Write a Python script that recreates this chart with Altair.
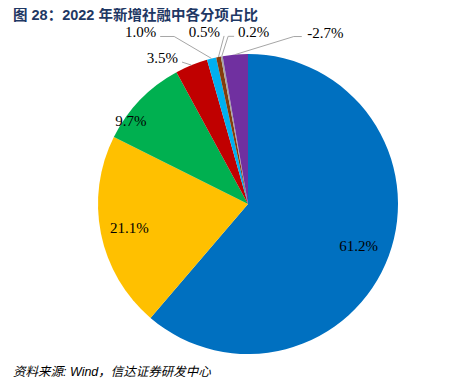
import altair as alt
import pandas as pd

# ---- data ----
categories = ["人民币贷款", "政府债券", "企业债券", "未贴现银行承兑汇票",
              "外币贷款", "委托贷款", "存款类金融机构资产支持证券", "信托贷款"]
shares = [61.2, 21.1, 9.7, 3.5, 1.0, 0.5, 0.2, -2.7]
colors = ["#0070C0", "#FFC000", "#00B050", "#C00000",
          "#00B0F0", "#843C0C", "#A5A5A5", "#7030A0"]
title_text = "图 28：2022 年新增社融中各分项占比"
source_text = "资料来源: Wind，信达证券研发中心"

# ---- label layout (style: radius factor, pixel nudges, leader bends) ----
label_rf = [0.8, 0.8, 0.8, 1, 1, 1, 1, 1]
label_dx = [-2, -1, -31, -29, -71, -14, 32, 90]
label_dy = [0, 0, 0, -7, -26, -25, -24, -22]
has_leader = [False, False, False, True, True, True, True, True]
bend = [0, 0, 0, 0, 14, 0, 6, 8]

W, H = 446, 373
CX, CY, R = 240, 196, 150

df = pd.DataFrame({
    "idx": list(range(len(categories))),
    "cat": categories,
    "value": shares,
    "label": [f"{v:.1f}%" for v in shares],
    "rf": label_rf,
    "dx": label_dx,
    "dy": label_dy,
    "leader": has_leader,
    "bend": bend,
})

xs = alt.Scale(domain=[0, W], range=[0, W], nice=False, zero=False)
ys = alt.Scale(domain=[0, H], range=[0, H], nice=False, zero=False)

arcs = alt.Chart(df).transform_calculate(
    size="abs(datum.value)"
).mark_arc(radius=R).encode(
    theta=alt.Theta("size:Q", stack=True),
    order=alt.Order("idx:Q"),
    color=alt.Color("cat:N", scale=alt.Scale(domain=categories, range=colors), legend=None),
    x=alt.value(CX),
    y=alt.value(CY),
)

geo = alt.Chart(df).transform_calculate(
    size="abs(datum.value)"
).transform_window(
    cum="sum(size)", sort=[alt.SortField("idx")], frame=[None, 0]
).transform_joinaggregate(
    total="sum(size)"
).transform_calculate(
    mid="2*PI*(datum.cum - datum.size/2)/datum.total"
).transform_calculate(
    ex=f"{CX} + {R}*sin(datum.mid)"
).transform_calculate(
    ey=f"{CY} - {R}*cos(datum.mid)"
).transform_calculate(
    lx=f"{CX} + datum.rf*{R}*sin(datum.mid) + datum.dx"
).transform_calculate(
    ly=f"{CY} - datum.rf*{R}*cos(datum.mid) + datum.dy"
).transform_calculate(
    side="datum.lx < datum.ex ? 1 : -1"
).transform_calculate(
    ax="datum.lx + datum.side*(length(datum.label)*3.9 + 4)"
).transform_calculate(
    ay="datum.ly + 4"
).transform_calculate(
    bx="datum.ax + datum.side*datum.bend"
).transform_calculate(
    by="datum.ay"
)

labels = geo.mark_text(
    font="Liberation Serif", fontSize=15, color="#000000",
    align="center", baseline="middle"
).encode(
    x=alt.X("lx:Q", scale=xs, axis=None),
    y=alt.Y("ly:Q", scale=ys, axis=None),
    text="label:N",
)

leaders = geo.transform_filter(
    "datum.leader"
).transform_fold(
    ["ex", "bx", "ax"], as_=["key", "px"]
).transform_calculate(
    py="datum.key == 'ex' ? datum.ey : (datum.key == 'bx' ? datum.by : datum.ay)"
).transform_calculate(
    ord="indexof(['ex','bx','ax'], datum.key)"
).mark_line(color="#A6A6A6", strokeWidth=1).encode(
    x=alt.X("px:Q", scale=xs, axis=None),
    y=alt.Y("py:Q", scale=ys, axis=None),
    detail="cat:N",
    order=alt.Order("ord:Q"),
)

title = alt.Chart(pd.DataFrame({"t": [title_text]})).mark_text(
    font="Liberation Sans, Noto Sans CJK SC", fontSize=14.5, fontWeight="bold",
    color="#1F3864", align="left", baseline="top"
).encode(text="t:N", x=alt.value(5), y=alt.value(1))

source = alt.Chart(pd.DataFrame({"t": [source_text]})).mark_text(
    font="Liberation Sans, Noto Sans CJK SC", fontSize=12.5, fontStyle="italic",
    color="#000000", align="left", baseline="middle"
).encode(text="t:N", x=alt.value(5), y=alt.value(364))

chart = alt.layer(arcs, leaders, labels, title, source).properties(
    width=W, height=H, padding=0
).configure_view(strokeWidth=0)

chart.save("out.html", embed_options={"renderer": "svg", "actions": False})
